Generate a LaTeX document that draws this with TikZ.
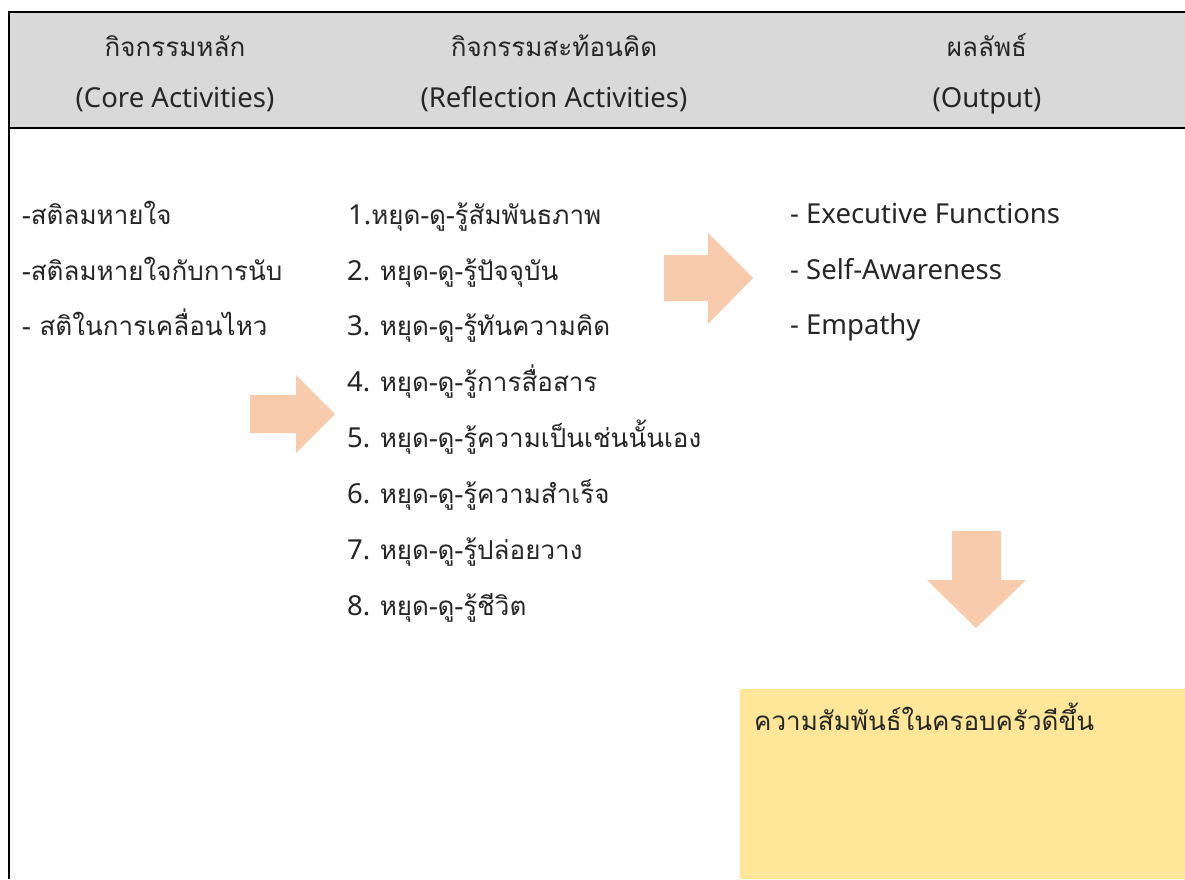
\documentclass[tikz,border=0pt]{standalone}
\usepackage{fontspec}
\setmainfont{Noto Sans}
\newfontfamily\thai[Script=Thai]{Loma}
\definecolor{hdrgray}{HTML}{D9D9D9}
\definecolor{peach}{HTML}{F8CBAD}
\definecolor{gold}{HTML}{FFE699}
\newcommand{\thaitxt}[1]{{\thai\fontsize{26}{30}\selectfont #1}}
\begin{document}
\begin{tikzpicture}[x=1pt,y=-1pt,
  txt/.style={inner sep=0pt,font=\fontsize{27.5}{32}\selectfont,text=black!85},
  ttxt/.style={inner sep=0pt,font=\thai\fontsize{26}{30}\selectfont,text=black!85},
  blockarrow/.style={fill=peach,draw=none},
  rule/.style={line width=2.5pt,black}]
\useasboundingbox (0,0) rectangle (1185,879);
% header band
\fill[hdrgray] (10,13) rectangle (1185,127);
\draw[rule] (9,12) -- (1185,12);
\draw[rule] (9,128) -- (1185,128);
\draw[rule] (9,11) -- (9,879);
% header texts
\node[ttxt,anchor=base] (h1a) at (175,56) {กิจกรรมหลัก};
\node[txt,anchor=base] (h1b) at (175,107) {(Core Activities)};
\node[ttxt,anchor=base] (h2a) at (554,56) {กิจกรรมสะท้อนคิด};
\node[txt,anchor=base] (h2b) at (554,107) {(Reflection Activities)};
\node[ttxt,anchor=base] (h3a) at (987,56) {ผลลัพธ์};
\node[txt,anchor=base] (h3b) at (987,107) {(Output)};
% left column
\node[ttxt,anchor=base west] (l1) at (22,224) {-สติลมหายใจ};
\node[ttxt,anchor=base west] (l2) at (22,280) {-สติลมหายใจกับการนับ};
\node[ttxt,anchor=base west] (l3) at (22,335) {- สติในการเคลื่อนไหว};
% middle column
\node[txt,anchor=base west] (m1) at (348,224) {1.\thaitxt{หยุด-ดู-รู้สัมพันธภาพ}};
\node[txt,anchor=base west] (m2) at (347,280) {2. \thaitxt{หยุด-ดู-รู้ปัจจุบัน}};
\node[txt,anchor=base west] (m3) at (347,335) {3. \thaitxt{หยุด-ดู-รู้ทันความคิด}};
\node[txt,anchor=base west] (m4) at (347,391) {4. \thaitxt{หยุด-ดู-รู้การสื่อสาร}};
\node[txt,anchor=base west] (m5) at (347,447) {5. \thaitxt{หยุด-ดู-รู้ความเป็นเช่นนั้นเอง}};
\node[txt,anchor=base west] (m6) at (347,503) {6. \thaitxt{หยุด-ดู-รู้ความสำเร็จ}};
\node[txt,anchor=base west] (m7) at (347,559) {7. \thaitxt{หยุด-ดู-รู้ปล่อยวาง}};
\node[txt,anchor=base west] (m8) at (347,615) {8. \thaitxt{หยุด-ดู-รู้ชีวิต}};
% right column
\node[txt,anchor=base west] (r1) at (790,223) {- Executive Functions};
\node[txt,anchor=base west] (r2) at (790,279) {- Self-Awareness};
\node[txt,anchor=base west] (r3) at (790,334) {- Empathy};
% block arrows
\fill[blockarrow] (250,395) -- (296,395) -- (296,375) -- (335,414) -- (296,453) -- (296,433) -- (250,433) -- cycle;
\fill[blockarrow] (664,255) -- (708,255) -- (708,233) -- (753,278) -- (708,324) -- (708,301) -- (664,301) -- cycle;
\fill[blockarrow] (952,531) -- (1001,531) -- (1001,580) -- (1026,580) -- (976,628) -- (927,580) -- (952,580) -- cycle;
% result box
\fill[gold] (740,689) rectangle (1185,879);
\node[ttxt,anchor=base west] (res) at (754,730) {ความสัมพันธ์ในครอบครัวดีขึ้น};
\end{tikzpicture}
\end{document}
